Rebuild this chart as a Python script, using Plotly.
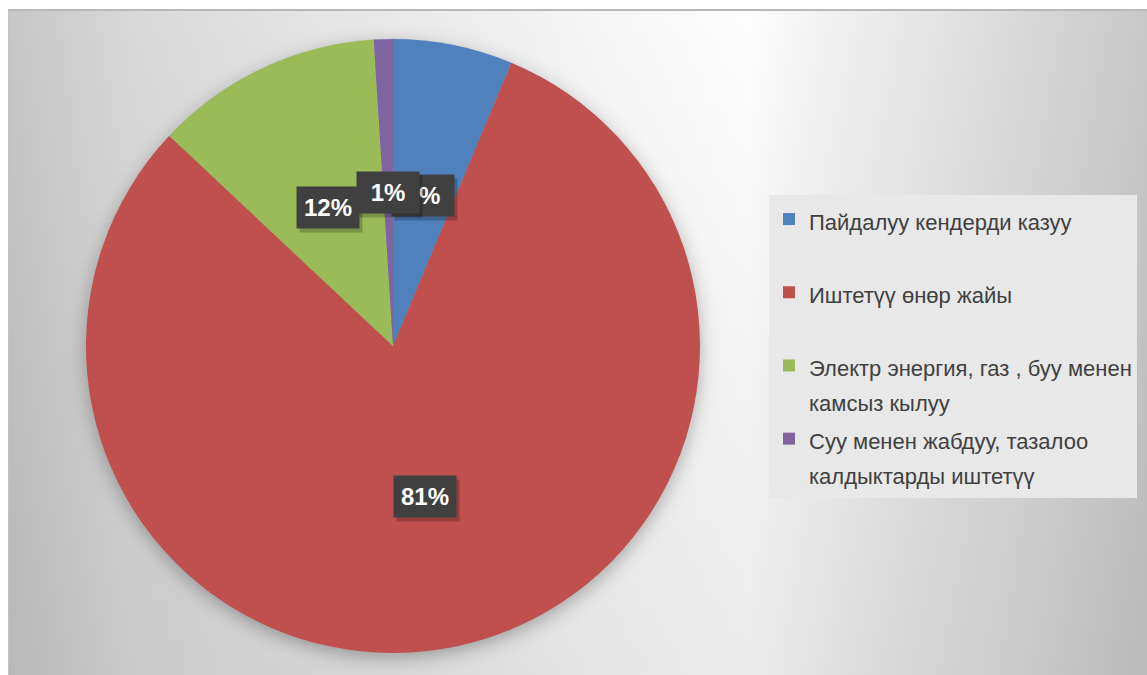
import base64
import numpy as np
import plotly.graph_objects as go

# ---- data ----
categories = [
    "Пайдалуу кендерди казуу",
    "Иштетүү өнөр жайы",
    "Электр энергия, газ , буу менен камсыз кылуу",
    "Суу менен жабдуу, тазалоо калдыктарды иштетүү",
]
legend_lines = [
    ["Пайдалуу кендерди казуу"],
    ["Иштетүү өнөр жайы"],
    ["Электр энергия, газ , буу менен", "камсыз кылуу"],
    ["Суу менен жабдуу, тазалоо", "калдыктарды иштетүү"],
]
values = [6.3, 80.7, 12.0, 1.0]
colors = ["#4F81BD", "#C0504D", "#9BBB59", "#8064A2"]

W, H = 1147, 675
CX, CY, R = 393, 346, 307  # pie geometry in pixels

# legend labels: every entry two lines tall, drawn at a smaller size than the line pitch
pad = "\u00a0"
legend_labels = []
for lines in legend_lines:
    ll = list(lines) + [pad] * (2 - len(lines))
    legend_labels.append("<br>".join(f'<span style="font-size:22px">{t}</span>' for t in ll))

# ---- background (gradient frame + pie shadow) ----
svg = f'''<svg xmlns="http://www.w3.org/2000/svg" width="{W}" height="{H}" viewBox="0 0 {W} {H}" preserveAspectRatio="none">
<defs>
<linearGradient id="h" x1="0" y1="0" x2="1" y2="0">
<stop offset="0" stop-color="#c6c6c6"/>
<stop offset="0.11" stop-color="#d9d9d9"/>
<stop offset="0.27" stop-color="#e4e4e4"/>
<stop offset="0.36" stop-color="#eaeaea"/>
<stop offset="0.52" stop-color="#f6f6f6"/>
<stop offset="0.65" stop-color="#fdfdfd"/>
<stop offset="0.74" stop-color="#eeeeee"/>
<stop offset="0.87" stop-color="#dcdcdc"/>
<stop offset="1" stop-color="#c8c8c8"/>
</linearGradient>
<linearGradient id="v" x1="0" y1="0" x2="0" y2="1">
<stop offset="0" stop-color="#000" stop-opacity="0"/>
<stop offset="1" stop-color="#000" stop-opacity="0.07"/>
</linearGradient>
<filter id="b" x="-20%" y="-20%" width="140%" height="140%"><feGaussianBlur stdDeviation="10"/></filter>
</defs>
<rect width="{W}" height="{H}" fill="#ffffff"/>
<rect x="8" y="9" width="{W-8}" height="{H-9}" fill="url(#h)"/>
<rect x="8" y="9" width="{W-8}" height="{H-9}" fill="url(#v)"/>
<circle cx="{CX}" cy="{CY+5}" r="{R-2}" fill="#000" fill-opacity="0.34" filter="url(#b)"/>
<rect x="8" y="9" width="{W-8}" height="2" fill="#b8b8b8"/>
<rect x="8" y="9" width="1" height="{H-9}" fill="#c2c2c2"/>
</svg>'''
src = "data:image/svg+xml;base64," + base64.b64encode(svg.encode("utf-8")).decode("ascii")

fig = go.Figure()
fig.add_trace(go.Pie(
    labels=legend_labels,
    values=values,
    sort=False,
    direction="clockwise",
    rotation=0,
    marker=dict(colors=colors, line=dict(width=0)),
    textinfo="none",
    hovertext=categories,
    hoverinfo="text+percent",
    domain=dict(x=[(CX - R) / W, (CX + R) / W], y=[1 - (CY + R) / H, 1 - (CY - R) / H]),
))

# data labels at half radius, mid-angle of each slice
vals = np.array(values, dtype=float)
frac = vals / vals.sum()
mid = (np.cumsum(frac) - frac / 2) * 2 * np.pi
annotations = []
for f, th in zip(frac, mid):
    px = CX + 0.5 * R * np.sin(th)
    py = CY - 0.5 * R * np.cos(th)
    xp, yp = px / W, 1 - py / H
    common = dict(x=xp, y=yp, xref="paper", yref="paper", showarrow=False,
                  xanchor="center", yanchor="middle", width=52, height=31, borderpad=5)
    annotations.append(dict(common, text=" ", bgcolor="rgba(0,0,0,0.22)", xshift=3, yshift=-4))
    annotations.append(dict(common, text=f"<b>{round(f * 100)}%</b>", bgcolor="#404040",
                            font=dict(family="Liberation Sans", size=24, color="#ffffff")))

fig.update_layout(
    width=W, height=H,
    margin=dict(l=0, r=0, t=0, b=0),
    paper_bgcolor="#ffffff",
    plot_bgcolor="#ffffff",
    images=[dict(source=src, xref="paper", yref="paper", x=0, y=1, sizex=1, sizey=1,
                 xanchor="left", yanchor="top", sizing="stretch", layer="below")],
    annotations=annotations,
    legend=dict(
        x=769 / W, y=1 - 195 / H, xanchor="left", yanchor="top",
        bgcolor="#e8e8e8", borderwidth=0, valign="top", traceorder="normal",
        font=dict(family="Liberation Sans", size=27, color="#404040"),
        itemwidth=30,
    ),
    showlegend=True,
)

fig.write_html("out.html")
